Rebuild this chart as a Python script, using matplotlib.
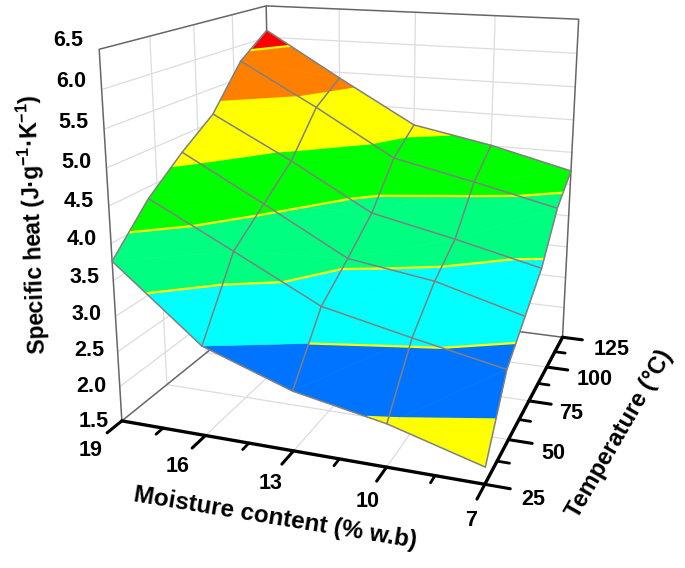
import numpy as np
import matplotlib
matplotlib.use("Agg")
import matplotlib.pyplot as plt
from mpl_toolkits.mplot3d import proj3d
from mpl_toolkits.mplot3d.art3d import Poly3DCollection, Line3DCollection

plt.rcParams['font.family'] = ['Liberation Sans', 'DejaVu Sans']
plt.rcParams['font.weight'] = 'bold'
plt.rcParams['mathtext.fontset'] = 'custom'
plt.rcParams['mathtext.bf'] = 'Liberation Sans:bold'

# data
moisture = [19, 16, 13, 10, 7]
temperature = [25, 45, 65, 85, 105, 125]
# one row per temperature, one column per moisture
specific_heat = [
    [3.76, 2.76, 2.33, 2.09, 1.73],
    [4.34, 3.73, 3.11, 2.84, 2.59],
    [4.76, 4.12, 3.46, 3.28, 2.94],
    [5.12, 4.51, 3.84, 3.58, 3.29],
    [5.76, 5.12, 4.43, 4.17, 3.89],
    [6.11, 5.41, 4.74, 4.51, 4.21],
]
levels = [2.14, 2.76, 3.38, 4.02, 4.63, 5.26, 5.88]
band_colors = ['#ffff00', '#0073ff', '#00ffff', '#00ff80', '#00ff00', '#ffff00', '#ff8000', '#ff0000']

moisture_major = [19, 16, 13, 10, 7]
moisture_minor = [17.5, 14.5, 11.5, 8.5]
temp_major = [25, 50, 75, 100, 125]
temp_minor = [37.5, 62.5, 87.5, 112.5]
heat_ticks = [1.5, 2.0, 2.5, 3.0, 3.5, 4.0, 4.5, 5.0, 5.5, 6.0, 6.5]

GRID = '#dcdcdc'
BOX = '#666666'
MESH = '#808080'

X0, X1 = 19, 7
Y0, Y1 = 25, 125
Z0, Z1 = 1.5, 6.5


def clip_above(poly, level, keep_above):
    # Sutherland-Hodgman against a horizontal plane
    out = []
    for i in range(len(poly)):
        a = poly[i]
        b = poly[(i + 1) % len(poly)]
        a_in = a[2] >= level if keep_above else a[2] <= level
        b_in = b[2] >= level if keep_above else b[2] <= level
        if a_in:
            out.append(a)
        if a_in != b_in:
            t = (level - a[2]) / (b[2] - a[2])
            out.append(tuple(a[k] + t * (b[k] - a[k]) for k in range(3)))
    return out


def crossing(tri, level):
    pts = []
    for i in range(3):
        a = tri[i]
        b = tri[(i + 1) % 3]
        if (a[2] - level) * (b[2] - level) < 0:
            t = (level - a[2]) / (b[2] - a[2])
            pts.append(tuple(a[k] + t * (b[k] - a[k]) for k in range(3)))
    return pts


fig = plt.figure(figsize=(6.85, 5.68), dpi=100)
side = 597.8
ax = fig.add_axes([(352.0 - side / 2) / 685, (568 - 219.5 - side / 2) / 568, side / 685, side / 568],
                  projection='3d', computed_zorder=False)
ax.set_xlim(X0, X1)
ax.set_ylim(Y0, Y1)
ax.set_zlim(Z0, Z1)
ax.view_init(elev=16.2065, azim=-70.0253)
ax.set_proj_type('persp', focal_length=0.37)
ax.set_box_aspect((1.0008, 0.9926, 1.0))
ax.set_axis_off()
ax.patch.set_alpha(0)


def line3(xs, ys, zs, **kw):
    ax.plot(xs, ys, zs, clip_on=False, solid_capstyle='round', **kw)


def label3(x, y, z, s):
    # plain 2D text placed at the projected point of the box
    px, py, _ = proj3d.proj_transform(x, y, z, ax.get_proj())
    ax.text2D(px, py, s, transform=ax.transData, fontsize=15.5, ha='center', va='center', zorder=6)


# walls and floor grid
for z in heat_ticks[1:-1]:
    line3([X0, X0], [Y0, Y1], [z, z], color=GRID, lw=0.9, zorder=1)
    line3([X0, X1], [Y1, Y1], [z, z], color=GRID, lw=0.9, zorder=1)
for t in temp_major[1:-1]:
    line3([X0, X0], [t, t], [Z0, Z1], color=GRID, lw=0.9, zorder=1)
    line3([X0, X1], [t, t], [Z0, Z0], color=GRID, lw=0.9, zorder=1)
for m in moisture_major[1:-1]:
    line3([m, m], [Y1, Y1], [Z0, Z1], color=GRID, lw=0.9, zorder=1)
    line3([m, m], [Y0, Y1], [Z0, Z0], color=GRID, lw=0.9, zorder=1)

# box outline
line3([X0, X0, X0, X1, X1], [Y0, Y0, Y1, Y1, Y1], [Z0, Z1, Z1, Z1, Z0], color=BOX, lw=1.1, zorder=1.5)
line3([X0, X0], [Y1, Y1], [Z0, Z1], color=BOX, lw=1.1, zorder=1.5)
line3([X0, X0, X1], [Y0, Y1, Y1], [Z0, Z0, Z0], color=BOX, lw=1.1, zorder=1.5)

# surface cut in colour bands
Z = np.array(specific_heat)
triangles = []
for j in range(len(temperature) - 1):
    for i in range(len(moisture) - 1):
        p00 = (moisture[i], temperature[j], Z[j, i])
        p10 = (moisture[i + 1], temperature[j], Z[j, i + 1])
        p01 = (moisture[i], temperature[j + 1], Z[j + 1, i])
        p11 = (moisture[i + 1], temperature[j + 1], Z[j + 1, i + 1])
        triangles.append([p00, p10, p11])
        triangles.append([p00, p11, p01])

edges = [-np.inf] + levels + [np.inf]
for k, color in enumerate(band_colors):
    polys = []
    for tri in triangles:
        poly = tri
        if np.isfinite(edges[k]):
            poly = clip_above(poly, edges[k], True)
        if poly and np.isfinite(edges[k + 1]):
            poly = clip_above(poly, edges[k + 1], False)
        if len(poly) >= 3:
            polys.append(poly)
    pc = Poly3DCollection(polys, facecolors=color, edgecolors=color, linewidths=0.4, zorder=2)
    ax.add_collection3d(pc, autolim=False)

# contour lines between the bands
segments = []
for level in levels:
    for tri in triangles:
        pts = crossing(tri, level)
        if len(pts) == 2:
            segments.append(pts)
ax.add_collection3d(Line3DCollection(segments, colors='#ffff00', linewidths=1.6, zorder=3), autolim=False)

# surface mesh
for j, t in enumerate(temperature):
    line3(moisture, [t] * len(moisture), Z[j, :], color=MESH, lw=1.1, zorder=4)
for i, m in enumerate(moisture):
    line3([m] * len(temperature), temperature, Z[:, i], color=MESH, lw=1.1, zorder=4)

# axes with ticks
line3([X0, X1], [Y0, Y0], [Z0, Z0], color='black', lw=2.4, zorder=5)
line3([X1, X1], [Y0, Y1], [Z0, Z0], color='black', lw=2.4, zorder=5)
for m in moisture_major:
    line3([m, m], [Y0, Y0 - 7.5], [Z0, Z0], color='black', lw=2.2, zorder=5)
for m in moisture_minor:
    line3([m, m], [Y0, Y0 - 3.8], [Z0, Z0], color='black', lw=2.0, zorder=5)
for t in temp_major:
    line3([X1, X1 - 0.75], [t, t], [Z0, Z0], color='black', lw=2.2, zorder=5)
for t in temp_minor:
    line3([X1, X1 - 0.38], [t, t], [Z0, Z0], color='black', lw=2.0, zorder=5)

for m in moisture_major:
    label3(m - 0.15, Y0 - 17.5, Z0, str(m))
# the upper temperature labels sit a bit further out
temp_offset = [1.42, 1.42, 1.42, 1.7, 1.87]
for t, off in zip(temp_major, temp_offset):
    label3(X1 - off, t, Z0 - 0.09, str(t))
for z in heat_ticks:
    label3(X0 + 1.05, Y0, 3.9 + (z - 3.9) * 1.035, '%.1f' % z)

fig.text(275 / 685, 1 - 518 / 568, 'Moisture content (% w.b)', fontsize=17.5, rotation=-9.4,
         ha='center', va='center', rotation_mode='anchor')
fig.text(620 / 685, 1 - 434 / 568, 'Temperature (\u00b0C)', fontsize=17, rotation=60,
         ha='center', va='center', rotation_mode='anchor')
fig.text(33 / 685, 1 - 224 / 568, 'Specific heat (J\u00b7g$^{\\mathbf{-1}}$\u00b7K$^{\\mathbf{-1}}$)',
         fontsize=16.5, rotation=92, ha='center', va='center', rotation_mode='anchor')

fig.savefig('out.png', dpi=100)
